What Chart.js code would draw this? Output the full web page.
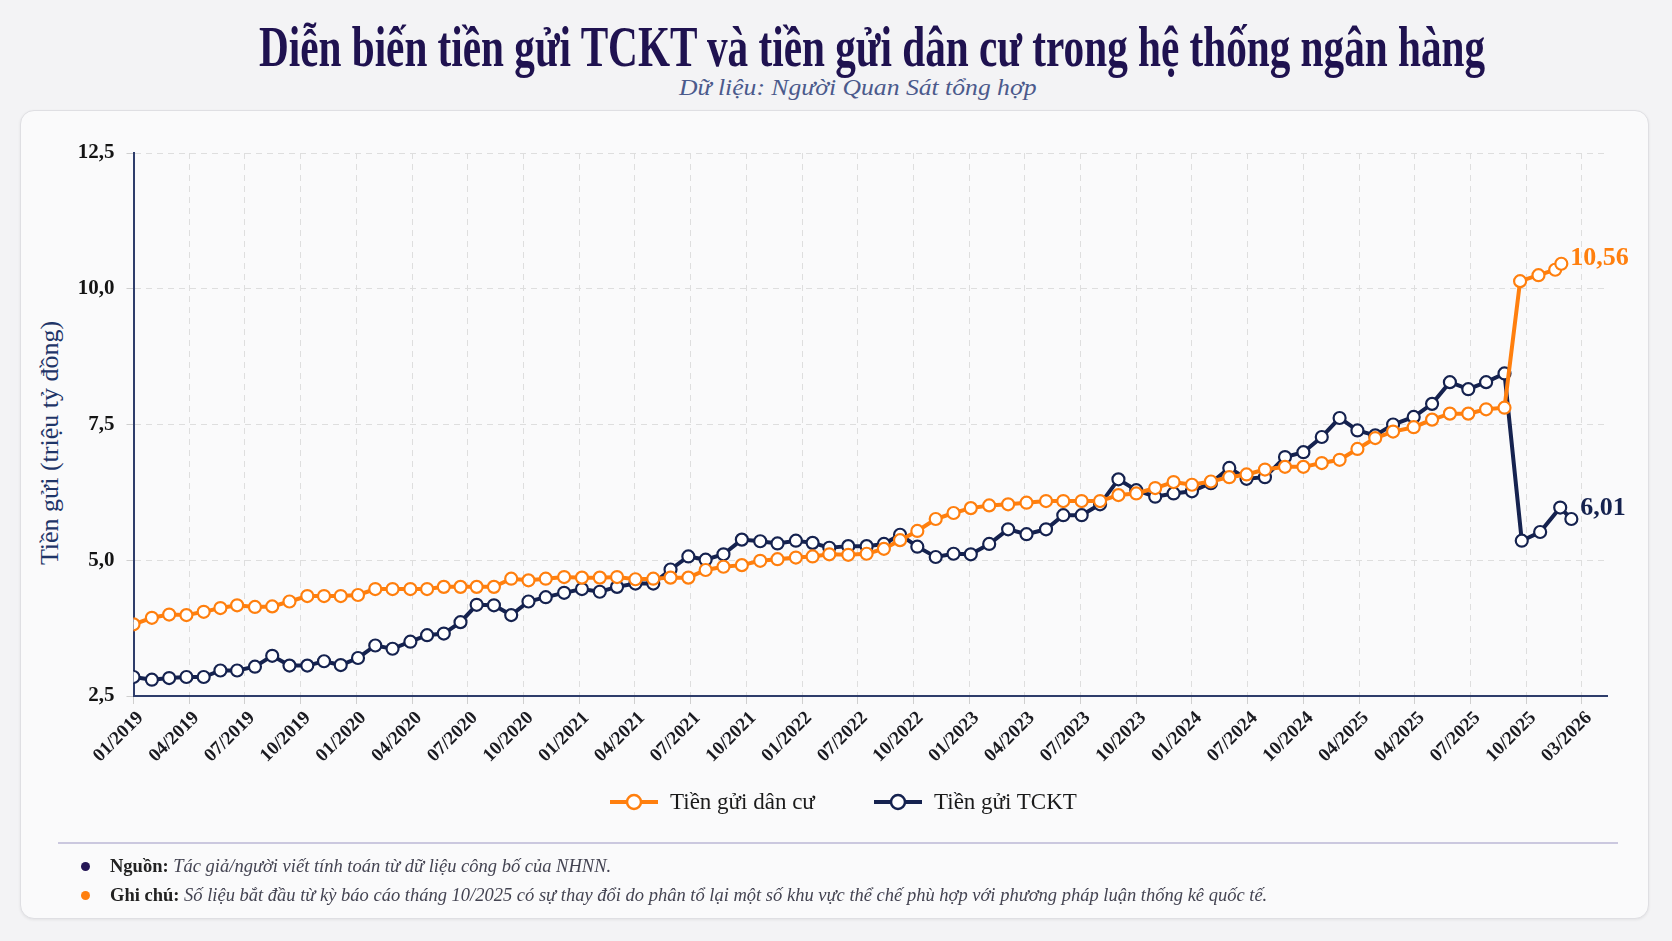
<!DOCTYPE html>
<html lang="vi">
<head>
<meta charset="utf-8">
<script src="https://cdn.jsdelivr.net/npm/chart.js@4.4.1/dist/chart.umd.min.js"></script>
<style>
  html, body { margin: 0; padding: 0; }
  body { width: 1672px; height: 941px; overflow: hidden; background: #f3f3f5; position: relative; font-family: "Liberation Serif", serif; }
  .card { position: absolute; left: 20px; top: 110px; width: 1627px; height: 807px; background: #fafafb; border: 1px solid #dfdfe3; border-radius: 14px; box-shadow: 0 1px 3px rgba(0,0,0,0.07); }
  .fit { position: absolute; white-space: nowrap; }
  .fit span { display: inline-block; transform-origin: 0 0; }
  #title { left: 259px; top: 19px; width: 1226px; font-size: 56px; line-height: 56px; font-weight: bold; color: #1f1250; }
  #subtitle { left: 679px; top: 75px; width: 358px; font-size: 23px; line-height: 26px; font-style: italic; color: #4b5a8c; }
  #ytitle { position: absolute; left: 50px; top: 443px; transform: translate(-50%, -50%) rotate(-90deg); font-size: 26px; line-height: 30px; color: #1f3568; white-space: nowrap; }
  canvas { position: absolute; left: 0; top: 0; }
  .legend { position: absolute; top: 789px; left: 610px; height: 26px; white-space: nowrap; font-size: 23px; line-height: 26px; color: #1a1a1a; }
  .legend .item { position: absolute; top: 0; display: flex; align-items: center; }
  .legend svg { margin-right: 12px; }
  .rule { position: absolute; left: 58px; top: 842px; width: 1560px; height: 2px; background: #cbc8df; }
  .note { position: absolute; left: 110px; font-size: 18.5px; line-height: 22px; color: #3a3a48; white-space: nowrap; }
  .note b { color: #222; }
  .note i { color: #444452; }
  .dot { position: absolute; left: 81px; width: 9px; height: 9px; border-radius: 50%; }
</style>
</head>
<body>
<div class="card"></div>
<div class="fit" id="title"><span>Diễn biến tiền gửi TCKT và tiền gửi dân cư trong hệ thống ngân hàng</span></div>
<div class="fit" id="subtitle"><span>Dữ liệu: Người Quan Sát tổng hợp</span></div>
<div id="ytitle">Tiền gửi (triệu tỷ đồng)</div>
<canvas id="chart" width="1672" height="941"></canvas>
<div class="legend" id="legend"></div>
<div class="rule"></div>
<div class="dot" style="top:862px;background:#241655"></div>
<div class="note" style="top:855px"><b>Nguồn:</b> <i>Tác giả/người viết tính toán từ dữ liệu công bố của NHNN.</i></div>
<div class="dot" style="top:891px;background:#ff7f0e"></div>
<div class="note" style="top:884px"><b>Ghi chú:</b> <i>Số liệu bắt đầu từ kỳ báo cáo tháng 10/2025 có sự thay đổi do phân tổ lại một số khu vực thể chế phù hợp với phương pháp luận thống kê quốc tế.</i></div>
<script>
// nhãn trục hoành (giữ nguyên như trong ảnh gốc)
const nhanTrucX = ['01/2019', '04/2019', '07/2019', '10/2019', '01/2020', '04/2020', '07/2020', '10/2020', '01/2021',
	'04/2021', '07/2021', '10/2021', '01/2022', '07/2022', '10/2022', '01/2023', '04/2023', '07/2023', '10/2023',
	'01/2024', '07/2024', '10/2024', '04/2025', '04/2025', '07/2025', '10/2025', '03/2026'];

// vị trí các kỳ trên trục hoành (đơn vị: khoảng cách giữa hai nhãn)
const viTriKy = [0.00, 0.33, 0.64, 0.95, 1.26, 1.56, 1.86, 2.18, 2.49, 2.80,
	3.12, 3.42, 3.72, 4.03, 4.34, 4.65, 4.97, 5.27, 5.57, 5.87,
	6.16, 6.47, 6.78, 7.09, 7.40, 7.73, 8.05, 8.37, 8.68, 9.01,
	9.33, 9.64, 9.96, 10.27, 10.59, 10.92, 11.25, 11.56, 11.89, 12.19,
	12.49, 12.83, 13.16, 13.47, 13.76, 14.07, 14.40, 14.72, 15.03, 15.36,
	15.70, 16.03, 16.38, 16.69, 17.02, 17.35, 17.68, 18.00, 18.34, 18.67,
	19.00, 19.34, 19.67, 19.98, 20.31, 20.67, 21.00, 21.33, 21.65, 21.97,
	22.29, 22.61, 22.98, 23.31, 23.63, 23.96, 24.28, 24.61];
// các kỳ sau khi phân tổ lại (10/2025 trở đi)
const viTriMoiDanCu = [24.89, 25.22, 25.52, 25.63];
const viTriMoiTCKT = [24.92, 25.25, 25.61, 25.81];

// tiền gửi dân cư (triệu tỷ đồng)
const danCu = [3.82, 3.94, 4.00, 3.99, 4.05, 4.12, 4.17, 4.14, 4.15, 4.24,
	4.34, 4.34, 4.34, 4.36, 4.47, 4.47, 4.47, 4.47, 4.51, 4.51,
	4.51, 4.51, 4.66, 4.63, 4.66, 4.69, 4.68, 4.68, 4.69, 4.65,
	4.66, 4.68, 4.68, 4.82, 4.88, 4.91, 4.99, 5.02, 5.05, 5.07,
	5.11, 5.10, 5.12, 5.21, 5.37, 5.54, 5.76, 5.87, 5.96, 6.01,
	6.03, 6.06, 6.09, 6.09, 6.09, 6.09, 6.20, 6.23, 6.33, 6.44,
	6.39, 6.45, 6.53, 6.58, 6.67, 6.72, 6.72, 6.79, 6.85, 7.05,
	7.25, 7.37, 7.45, 7.59, 7.70, 7.70, 7.78, 7.81];
const danCuMoi = [10.14, 10.25, 10.35, 10.46];

// tiền gửi tổ chức kinh tế (triệu tỷ đồng)
const tckt = [2.85, 2.80, 2.83, 2.85, 2.85, 2.97, 2.97, 3.04, 3.24, 3.06,
	3.06, 3.14, 3.07, 3.20, 3.43, 3.37, 3.50, 3.62, 3.65, 3.86,
	4.18, 4.17, 3.99, 4.24, 4.32, 4.40, 4.47, 4.42, 4.51, 4.57,
	4.57, 4.83, 5.07, 5.01, 5.11, 5.38, 5.35, 5.31, 5.36, 5.32,
	5.23, 5.26, 5.26, 5.30, 5.47, 5.25, 5.06, 5.12, 5.11, 5.30,
	5.57, 5.48, 5.57, 5.83, 5.83, 6.03, 6.49, 6.29, 6.17, 6.23,
	6.27, 6.42, 6.70, 6.50, 6.53, 6.90, 6.99, 7.27, 7.62, 7.39,
	7.30, 7.50, 7.64, 7.88, 8.28, 8.15, 8.28, 8.44];
const tcktMoi = [5.36, 5.52, 5.97, 5.76];

// giá trị ghi ở cuối đường
const nhanCuoiDanCu = 10.56;
const nhanCuoiTCKT = 6.01;

const CAM = '#ff7f0e';
const XANH = '#15224f';

function ghepDiem(viTri, giaTri, viTriMoi, giaTriMoi) {
	let pts = giaTri.map((v, i) => ({x: viTri[i], y: v}));
	return pts.concat(giaTriMoi.map((v, i) => ({x: viTriMoi[i], y: v})));
}

const nhanCuoi = {
	id: 'nhanCuoi',
	afterDatasetsDraw(chart) {
		let ctx = chart.ctx;
		let y = chart.scales.y;
		[[0, nhanCuoiDanCu, CAM, 0], [1, nhanCuoiTCKT, XANH, 3]].forEach(([i, val, color, dy]) => {
			let pts = chart.getDatasetMeta(i).data;
			let last = pts[pts.length - 1];
			ctx.save();
			ctx.font = 'bold 26px "Liberation Serif"';
			ctx.fillStyle = color;
			ctx.textBaseline = 'middle';
			ctx.fillText(val.toFixed(2).replace('.', ','), last.x + 9, y.getPixelForValue(val) + dy);
			ctx.restore();
		});
	}
};

function duongKe(label, data, color) {
	return {
		label: label,
		data: data,
		borderColor: color,
		backgroundColor: color,
		borderWidth: 4,
		tension: 0,
		fill: false,
		pointRadius: 6,
		pointBorderWidth: 2.2,
		pointBackgroundColor: '#ffffff',
		pointBorderColor: color
	};
}

// chú thích vẽ bằng HTML, lấy màu và tên từ các đường của biểu đồ
function veChuThich(chart) {
	let box = document.querySelector('#legend');
	let lefts = [0, 264];
	chart.data.datasets.forEach((ds, i) => {
		let item = document.createElement('div');
		item.className = 'item';
		item.style.left = lefts[i] + 'px';
		item.innerHTML = '<svg width="48" height="20"><line x1="0" y1="10" x2="48" y2="10" stroke="' + ds.borderColor +
			'" stroke-width="4"/><circle cx="24" cy="10" r="7" fill="#fff" stroke="' + ds.borderColor +
			'" stroke-width="2.5"/></svg><span>' + ds.label + '</span>';
		box.appendChild(item);
	});
}

function veBieuDo() {
	let chart = new Chart(document.querySelector('#chart'), {
		type: 'line',
		data: {
			datasets: [
				duongKe('Tiền gửi dân cư', ghepDiem(viTriKy, danCu, viTriMoiDanCu, danCuMoi), CAM),
				duongKe('Tiền gửi TCKT', ghepDiem(viTriKy, tckt, viTriMoiTCKT, tcktMoi), XANH)
			]
		},
		options: {
			responsive: false,
			animation: false,
			layout: {padding: {top: 153, left: 0, right: 65, bottom: 150}},
			scales: {
				x: {
					type: 'linear',
					min: 0,
					max: 26.45,
					afterBuildTicks: (axis) => { axis.ticks = nhanTrucX.map((_, i) => ({value: i})); },
					afterFit: (axis) => { axis.height = 95; },
					ticks: {
						autoSkip: false,
						maxRotation: 45,
						minRotation: 45,
						padding: 3,
						labelOffset: 7,
						color: '#1a1a20',
						font: {family: 'Liberation Serif', size: 19, weight: 'bold'},
						callback: (value, index) => nhanTrucX[index]
					},
					grid: {color: '#dedede', lineWidth: 1, tickLength: 8, tickColor: '#cfcfcf'},
					border: {color: '#2e3d6b', width: 2, dash: [6, 5]}
				},
				y: {
					min: 2.5,
					max: 12.5,
					afterFit: (axis) => { axis.width = 133.5; },
					ticks: {
						stepSize: 2.5,
						padding: 12,
						color: '#141414',
						font: {family: 'Liberation Serif', size: 21, weight: 'bold'},
						callback: (value) => value.toFixed(1).replace('.', ',')
					},
					grid: {color: '#dedede', lineWidth: 1, tickLength: 7, tickColor: '#cfcfcf'},
					border: {color: '#2e3d6b', width: 2, dash: [6, 5]}
				}
			},
			plugins: {
				legend: {display: false},
				tooltip: {enabled: false}
			}
		},
		plugins: [nhanCuoi]
	});
	veChuThich(chart);
}

function canChu() {
	document.querySelectorAll('.fit').forEach(box => {
		let span = box.querySelector('span');
		span.style.transform = 'scaleX(' + (box.clientWidth / span.offsetWidth) + ')';
	});
}

document.fonts.ready.then(() => {
	canChu();
	veBieuDo();
});
</script>
</body>
</html>
